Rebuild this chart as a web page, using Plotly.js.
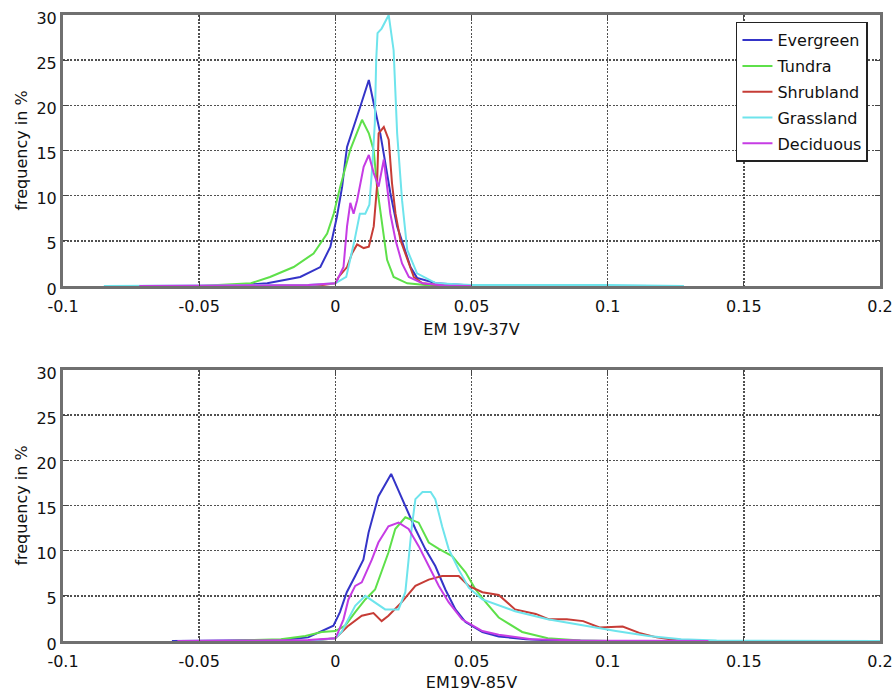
<!DOCTYPE html>
<html>
<head>
<meta charset="utf-8">
<script src="https://cdn.plot.ly/plotly-3.0.1.min.js"></script>
<style>
  html, body { margin: 0; padding: 0; background: #fff; }
  #chart { width: 893px; height: 692px; }
</style>
</head>
<body>
<div id="chart"></div>
<script>
// Land-cover classes, legend order
const classNames = ['Evergreen', 'Tundra', 'Shrubland', 'Grassland', 'Deciduous'];
const classColors = ['#3434c8', '#5ee04a', '#c63c36', '#6ee4ec', '#c63ce4'];

// Axis ticks
const xTickVals = [-0.1, -0.05, 0, 0.05, 0.1, 0.15, 0.2];
const xTickText = ['-0.1', '-0.05', '0', '0.05', '0.1', '0.15', '0.2'];
const yTickVals = [0, 5, 10, 15, 20, 25, 30];
const yTickText = ['0', '5', '10', '15', '20', '25', '30'];

// ---- EM 19V-37V : frequency (%) ----
const evergreen37X = [-0.045, -0.035, -0.025, -0.0129, -0.0055, -0.0018, 0.0006, 0.0025, 0.0037, 0.0043, 0.0092, 0.0123, 0.0141, 0.0165, 0.0178, 0.0202, 0.0227, 0.0251, 0.0276, 0.030, 0.037, 0.05, 0.105, 0.12];
const evergreen37Y = [0, 0.1, 0.3, 1.0, 2.1, 4.35, 7.7, 11, 14, 15.4, 19.9, 22.8, 20.2, 16.9, 14.6, 10.3, 6.6, 4.35, 2.1, 0.9, 0.3, 0.05, 0.05, 0];

const tundra37X = [-0.05, -0.031, -0.024, -0.0153, -0.008, -0.003, -0.0006, 0.0018, 0.0055, 0.0098, 0.0123, 0.0141, 0.0153, 0.0172, 0.019, 0.0214, 0.0264, 0.035, 0.1];
const tundra37Y = [0, 0.3, 1.0, 2.1, 3.6, 5.8, 8, 11, 15.1, 18.4, 16.9, 15, 11, 6.6, 2.9, 1.0, 0.3, 0.05, 0];

const shrub37X = [-0.03, -0.005, 0, 0.0012, 0.0043, 0.0061, 0.008, 0.0104, 0.0123, 0.0141, 0.0153, 0.0159, 0.0178, 0.0196, 0.0208, 0.0221, 0.0239, 0.0264, 0.0288, 0.032, 0.04, 0.05];
const shrub37Y = [0, 0.1, 0.3, 1.0, 2.1, 3.6, 4.6, 4.2, 4.35, 6.6, 11, 16.9, 17.6, 16.2, 11.4, 8, 5.1, 2.9, 1.0, 0.3, 0.05, 0];

const grass37X = [-0.085, -0.05, -0.01, 0, 0.004, 0.007, 0.009, 0.011, 0.0125, 0.0135, 0.0145, 0.015, 0.0155, 0.017, 0.0196, 0.0214, 0.0227, 0.0245, 0.0264, 0.030, 0.037, 0.05, 0.1, 0.128];
const grass37Y = [0, 0.05, 0.1, 0.3, 1.0, 5, 8, 8, 9, 13, 18, 25, 28, 28.5, 30, 26.1, 16.9, 9.5, 4, 1.4, 0.3, 0.1, 0.1, 0];

const decid37X = [-0.072, -0.04, -0.01, 0, 0.0006, 0.003, 0.0043, 0.0055, 0.0067, 0.008, 0.0104, 0.0123, 0.0141, 0.0159, 0.0178, 0.019, 0.0202, 0.0221, 0.0245, 0.027, 0.032, 0.04, 0.05];
const decid37Y = [0, 0.05, 0.1, 0.3, 0.6, 2.1, 6.6, 9.2, 8, 9.5, 13.2, 14.5, 12.5, 11, 14, 11, 8, 5.1, 2.5, 1.0, 0.3, 0.05, 0];

// ---- EM19V-85V : frequency (%) ----
const evergreen85X = [-0.06, -0.02, -0.01, -0.005, -0.0007, 0.0017, 0.0042, 0.0073, 0.0103, 0.0122, 0.0158, 0.0205, 0.0257, 0.0294, 0.033, 0.0367, 0.0404, 0.0441, 0.0478, 0.054, 0.06, 0.07, 0.08, 0.1, 0.14];
const evergreen85Y = [0, 0.1, 0.4, 1.1, 1.7, 3.2, 5.4, 7.2, 9, 12, 16, 18.5, 15, 12.4, 10.2, 8.3, 5.7, 3.5, 2.1, 1.0, 0.5, 0.2, 0.05, 0, 0];

const tundra85X = [-0.04, -0.02, -0.011, -0.005, 0, 0.0036, 0.0073, 0.011, 0.0146, 0.017, 0.0195, 0.022, 0.0257, 0.0306, 0.0343, 0.038, 0.0429, 0.0478, 0.0515, 0.0552, 0.06, 0.0686, 0.078, 0.09, 0.1];
const tundra85Y = [0, 0.2, 0.55, 1.0, 1.1, 1.7, 3.2, 4.6, 5.7, 7.6, 9.8, 12.4, 13.7, 13.1, 10.9, 10.2, 9.4, 7.6, 5.7, 4.3, 2.6, 1.0, 0.3, 0.05, 0];

const shrub85X = [-0.01, 0, 0.0048, 0.0097, 0.014, 0.017, 0.0195, 0.0244, 0.0294, 0.0343, 0.0392, 0.0453, 0.049, 0.054, 0.06, 0.066, 0.0736, 0.0785, 0.085, 0.091, 0.097, 0.1055, 0.1116, 0.118, 0.125, 0.13];
const shrub85Y = [0, 0.3, 1.7, 2.8, 3.1, 2.2, 2.8, 4.3, 6.1, 6.8, 7.2, 7.2, 6.1, 5.4, 5.1, 3.5, 3.0, 2.4, 2.4, 2.2, 1.5, 1.6, 0.9, 0.4, 0.1, 0];

const grass85X = [-0.01, 0, 0.0023, 0.0048, 0.0073, 0.011, 0.0146, 0.0183, 0.0232, 0.0257, 0.0269, 0.0281, 0.0294, 0.032, 0.035, 0.0367, 0.0392, 0.0416, 0.0453, 0.049, 0.054, 0.0588, 0.066, 0.078, 0.091, 0.103, 0.115, 0.127, 0.14, 0.2];
const grass85Y = [0, 0.3, 1.0, 2.4, 3.9, 5, 4.3, 3.5, 3.5, 5.4, 9, 12.7, 15.7, 16.5, 16.5, 15.7, 12.7, 10.2, 7.9, 5.9, 4.6, 4.1, 3.3, 2.4, 1.7, 1.1, 0.55, 0.2, 0.05, 0];

const decid85X = [-0.058, -0.02, -0.01, 0, 0.0005, 0.003, 0.0048, 0.0073, 0.0097, 0.0134, 0.0158, 0.0195, 0.0232, 0.0269, 0.0306, 0.0343, 0.038, 0.0416, 0.0465, 0.054, 0.06, 0.072, 0.09, 0.137];
const decid85Y = [0, 0.05, 0.1, 0.3, 0.6, 2.4, 4.6, 6.1, 6.5, 9, 10.9, 12.7, 13.1, 12.4, 10.5, 8.3, 6.1, 4.3, 2.4, 1.1, 0.7, 0.2, 0.05, 0];

const panel37 = [[evergreen37X, evergreen37Y], [tundra37X, tundra37Y], [shrub37X, shrub37Y], [grass37X, grass37Y], [decid37X, decid37Y]];
const panel85 = [[evergreen85X, evergreen85Y], [tundra85X, tundra85Y], [shrub85X, shrub85Y], [grass85X, grass85Y], [decid85X, decid85Y]];

const FONT = 'DejaVu Sans, Arial, sans-serif';
const traces = [];

panel37.forEach(([xs, ys], i) => {
  traces.push({
    x: xs, y: ys, type: 'scatter', mode: 'lines',
    name: classNames[i], legendgroup: classNames[i],
    line: { color: classColors[i], width: 2 },
    xaxis: 'x', yaxis: 'y', hoverinfo: 'skip'
  });
});
panel85.forEach(([xs, ys], i) => {
  traces.push({
    x: xs, y: ys, type: 'scatter', mode: 'lines',
    name: classNames[i], legendgroup: classNames[i], showlegend: false,
    line: { color: classColors[i], width: 2 },
    xaxis: 'x2', yaxis: 'y2', hoverinfo: 'skip'
  });
});

// shared axis styling: grey box frame, dense dotted grid, inward ticks
const gridStyle = {
  showgrid: true, gridcolor: '#505050', gridwidth: 1.5, griddash: '2px,1.5px',
  zeroline: false, showline: true, linecolor: '#707070', linewidth: 3, mirror: 'ticks',
  ticks: 'inside', ticklen: 5, tickcolor: '#444', automargin: false
};

function xAxis(title, anchor) {
  return Object.assign({
    anchor: anchor, range: [-0.1, 0.2], tickmode: 'array',
    tickvals: xTickVals, ticktext: xTickText,
    tickfont: { family: FONT, size: 16, color: '#111' },
    ticklabelstandoff: 4,
    title: { text: title, font: { family: FONT, size: 16, color: '#111' }, standoff: 9 }
  }, gridStyle);
}
function yAxis(domain, anchor) {
  return Object.assign({
    domain: domain, anchor: anchor, range: [0, 30], tickmode: 'array',
    tickvals: yTickVals, ticktext: yTickText,
    tickfont: { family: FONT, size: 16, color: '#111' },
    ticklabelshift: 3,
    title: { text: 'frequency in %', font: { family: FONT, size: 16, color: '#111' }, standoff: 5 }
  }, gridStyle);
}

const layout = {
  width: 893, height: 692,
  margin: { l: 63, r: 13, t: 15, b: 51 },
  paper_bgcolor: '#fff', plot_bgcolor: '#fff',
  showlegend: true,
  legend: {
    x: 0.8237, y: 0.9893, xanchor: 'left', yanchor: 'top',
    bgcolor: '#fff', bordercolor: '#222', borderwidth: 1.5,
    font: { family: FONT, size: 16, color: '#111' },
    tracegroupgap: 2
  },
  xaxis: xAxis('EM 19V-37V', 'y'),
  yaxis: yAxis([0.5671, 1], 'x'),
  xaxis2: xAxis('EM19V-85V', 'y2'),
  yaxis2: yAxis([0, 0.4329], 'x2')
};

Plotly.newPlot('chart', traces, layout, { displayModeBar: false, staticPlot: true });
</script>
</body>
</html>
